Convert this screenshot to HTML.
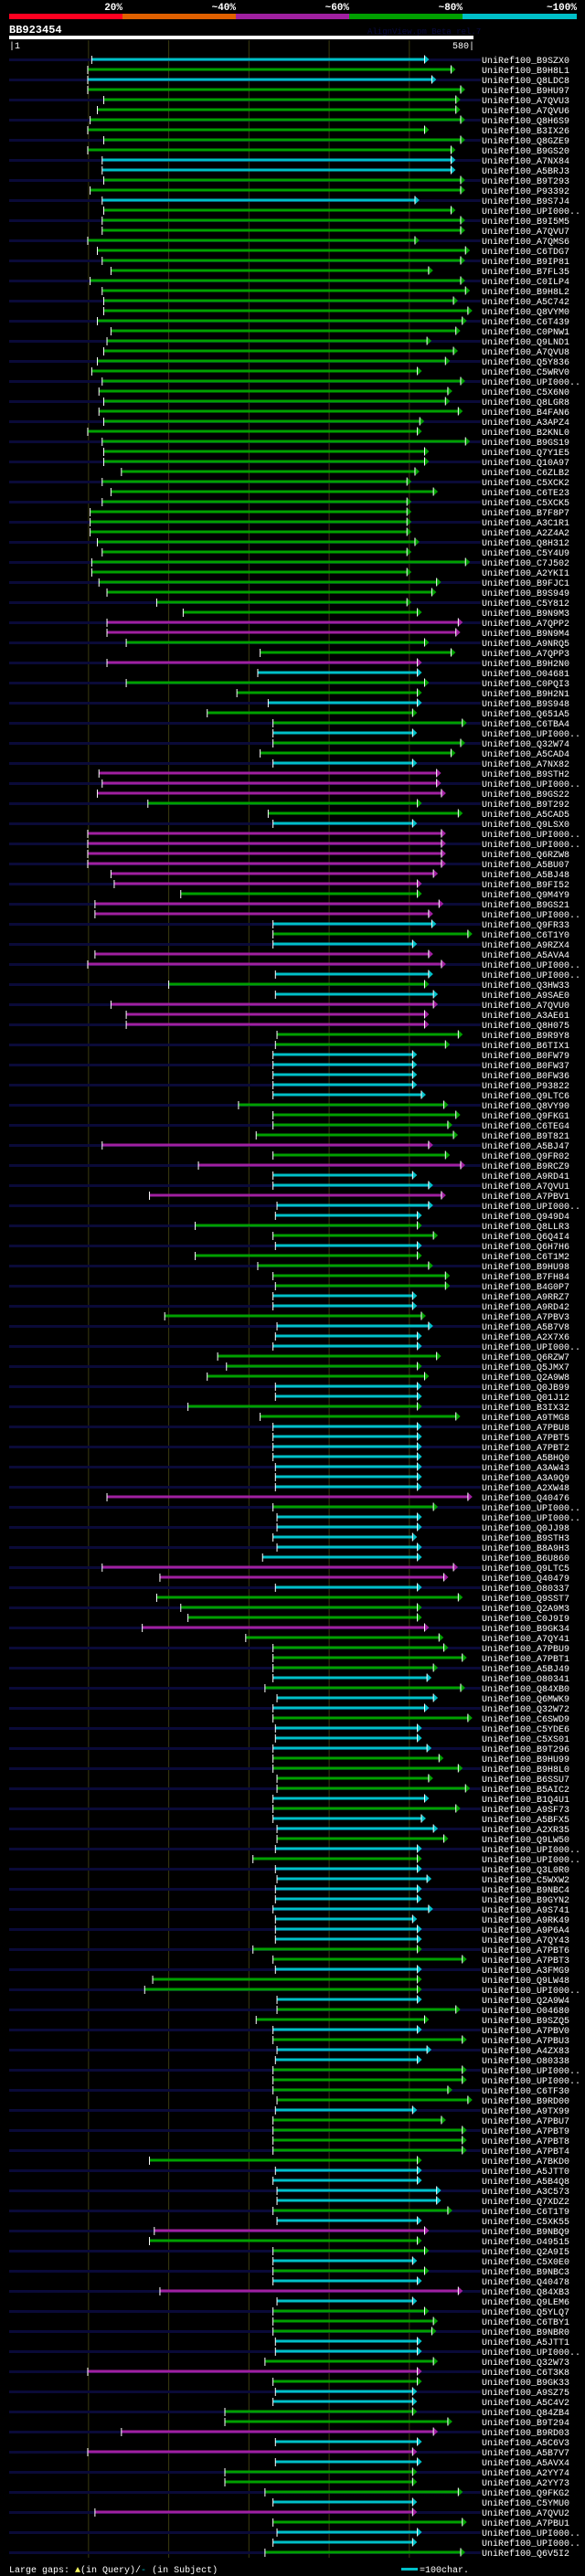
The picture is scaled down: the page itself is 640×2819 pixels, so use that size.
<!DOCTYPE html>
<html><head><meta charset="utf-8">
<style>
html,body{margin:0;padding:0;background:#000;}
svg{display:block;}
text{font-family:"Liberation Mono","DejaVu Sans Mono",monospace;}
</style></head>
<body>
<svg id="chart" width="640" height="2819" viewBox="0 0 640 2819" xmlns="http://www.w3.org/2000/svg">
  <rect x="0" y="0" width="640" height="2819" fill="#000"/>
  <g>
    <rect x="10" y="15" width="124" height="6" fill="#ff0020"/>
    <rect x="134" y="15" width="124" height="6" fill="#e06000"/>
    <rect x="258" y="15" width="124" height="6" fill="#a020a0"/>
    <rect x="382" y="15" width="124" height="6" fill="#00a000"/>
    <rect x="506" y="15" width="125" height="6" fill="#00c0c8"/>
    <g font-size="11" font-weight="bold" fill="#fff" text-anchor="end">
      <text x="134" y="11">20%</text>
      <text x="258" y="11">~40%</text>
      <text x="382" y="11">~60%</text>
      <text x="506" y="11">~80%</text>
      <text x="631" y="11">~100%</text>
    </g>
  </g>
  <text x="10" y="36" font-size="12" font-weight="bold" fill="#fff">BB923454</text>
  <text x="402" y="37" font-size="9" fill="#0a0a40">AlignView.pm Beta rel.7</text>
  <rect x="10" y="39" width="508" height="4" fill="#fff"/>
  <text x="10" y="53" font-size="10" fill="#fff">|1</text>
  <text x="519" y="53" font-size="10" fill="#fff" text-anchor="end">580|</text>
  <g id="grid"></g>
  <g id="rows"></g>
  <g>
    <text x="10" y="2815" font-size="10" fill="#fff">Large gaps: <tspan fill="#ffff60">▲</tspan>(in Query)/<tspan fill="#00c0c8">-</tspan> (in Subject)</text>
    <rect x="439" y="2810" width="18" height="3" fill="#00c0c8"/>
    <text x="459" y="2815" font-size="10" fill="#fff">=100char.</text>
  </g>
</svg>
<script>
const ids = ("B9SZX0 B9H8L1 Q8LDC8 B9HU97 A7QVU3 A7QVU6 Q8H6S9 B3IX26 Q8GZE9 B9GS20 A7NX84 A5BRJ3 B9T293 P93392 B9S7J4 UPI000.. B9I5M5 A7QVU7 A7QMS6 C6TDG7 B9IP81 B7FL35 C0ILP4 B9H8L2 A5C742 Q8VYM0 C6T439 " +
"C0PNW1 Q9LND1 A7QVU8 Q5Y836 C5WRV0 UPI000.. C5X6N0 Q8LGR8 B4FAN6 A3APZ4 B2KNL0 B9GS19 Q7Y1E5 Q10A97 C6ZLB2 C5XCK2 C6TE23 C5XCK5 B7F8P7 A3C1R1 A2Z4A2 Q8H312 C5Y4U9 C7J502 A2YKI1 B9FJC1 B9S949 " +
"C5Y812 B9N9M3 A7QPP2 B9N9M4 A9NRQ5 A7QPP3 B9H2N0 O04681 C0PQI3 B9H2N1 B9S948 Q651A5 C6TBA4 UPI000.. Q32W74 A5CAD4 A7NX82 B9STH2 UPI000.. B9GS22 B9T292 A5CAD5 Q9LSX0 UPI000.. UPI000.. Q6RZW8 A5BU07 " +
"A5BJ48 B9FI52 Q9M4Y9 B9GS21 UPI000.. Q9FR33 C6T1Y0 A9RZX4 A5AVA4 UPI000.. UPI000.. Q3HW33 A9SAE0 A7QVU0 A3AE61 Q8H075 B9R9Y8 B6TIX1 B0FW79 B0FW37 B0FW36 P93822 Q9LTC6 Q8VY90 Q9FKG1 C6TEG4 B9T821 " +
"A5BJ47 Q9FR02 B9RCZ9 A9RD41 A7QVU1 A7PBV1 UPI000.. Q949D4 Q8LLR3 Q6Q4I4 Q6H7H6 C6T1M2 B9HU98 B7FH84 B4G0P7 A9RRZ7 A9RD42 A7PBV3 A5B7V8 A2X7X6 UPI000.. Q6RZW7 Q5JMX7 Q2A9W8 Q0JB99 Q01J12 B3IX32 " +
"A9TMG8 A7PBU8 A7PBT5 A7PBT2 A5BHQ0 A3AW43 A3A9Q9 A2XW48 Q40476 UPI000.. UPI000.. Q0JJ98 B9STH3 B8A9H3 B6U860 Q9LTC5 Q40479 O80337 Q9SST7 Q2A9M3 C0J9I9 B9GK34 A7QY41 A7PBU9 A7PBT1 A5BJ49 O80341 " +
"Q84XB0 Q6MWK9 Q32W72 C6SWD9 C5YDE6 C5XS01 B9T296 B9HU99 B9H8L0 B6SSU7 B5AIC2 B1Q4U1 A9SF73 A5BFX5 A2XR35 Q9LW50 UPI000.. UPI000.. Q3L0R0 C5WXW2 B9NBC4 B9GYN2 A9S741 A9RK49 A9P6A4 A7QY43 A7PBT6 " +
"A7PBT3 A3FMG9 Q9LW48 UPI000.. Q2A9W4 O04680 B9SZQ5 A7PBV0 A7PBU3 A4ZX83 O80338 UPI000.. UPI000.. C6TF30 B9RD00 A9TX99 A7PBU7 A7PBT9 A7PBT8 A7PBT4 A7BKD0 A5JTT0 A5B4Q8 A3C573 Q7XDZ2 C6T1T9 C5XK55 " +
"B9NBQ9 O49515 Q2A9I5 C5X0E0 B9NBC3 Q40478 Q84XB3 Q9LEM6 Q5YLQ7 C6TBY1 B9NBR0 A5JTT1 UPI000.. Q32W73 C6T3K8 B9GK33 A9SZ75 A5C4V2 Q84ZB4 B9T294 B9RD03 A5C6V3 A5B7V7 A5AVX4 A2YY74 A2YY73 Q9FKG2 C5YMU0 " +
"A7QVU2 A7PBU1 UPI000.. UPI000.. Q6V5I2").split(" ");

const starts = [104,99,99,99,119,111,102,99,119,99,117,117,119,102,117,119,117,117,99,111,117,128,102,117,119,119,111,
128,123,119,111,104,117,113,119,113,119,99,117,119,119,141,117,128,117,102,102,102,111,117,104,104,113,123,
185,218,123,123,147,314,123,311,147,285,324,248,330,330,330,314,330,113,117,111,174,324,330,99,99,99,99,
128,132,215,108,108,330,330,330,108,99,333,200,333,128,147,147,335,333,330,330,330,330,330,287,330,330,309,
117,330,237,330,330,176,335,333,233,330,333,233,311,330,333,330,330,195,335,333,330,261,272,248,333,333,224,
314,330,330,330,330,333,333,333,123,330,335,335,330,335,317,117,189,333,185,215,224,167,296,330,330,330,330,
320,335,330,330,333,333,330,330,330,335,335,330,330,330,335,335,333,305,333,335,333,333,330,333,333,333,305,
330,333,180,170,335,335,309,330,330,335,333,330,330,330,335,333,330,330,330,330,176,333,330,335,335,330,335,
182,176,330,330,330,330,189,335,330,330,330,333,333,320,99,330,333,330,270,270,141,333,99,333,270,270,320,330,
108,330,335,330,320];

const ends = [519,552,528,564,558,558,564,519,564,552,552,552,564,564,507,552,564,564,507,570,564,524,564,570,555,573,566,
558,522,555,545,510,564,548,545,561,513,510,570,519,519,507,497,530,497,497,497,497,507,497,570,497,534,528,
497,510,561,558,519,552,510,510,519,510,510,504,566,504,564,552,504,534,534,540,510,561,504,540,540,540,540,
530,510,510,537,524,528,573,504,524,540,524,519,530,530,519,519,561,545,504,504,504,504,515,543,558,548,555,
524,545,564,504,524,540,524,510,510,530,510,510,524,545,545,504,504,515,524,510,510,534,510,519,510,510,510,
558,510,510,510,510,510,510,510,573,530,510,510,504,510,510,555,543,510,561,510,510,519,537,543,566,530,522,
564,530,519,573,510,510,522,537,561,524,570,519,558,515,530,543,510,510,510,522,510,510,524,504,510,510,510,
566,510,510,510,510,558,519,510,566,522,510,566,566,548,573,504,540,566,566,566,510,510,510,534,534,548,510,
519,510,519,504,519,510,561,504,519,530,528,510,510,530,510,510,504,504,504,548,530,510,504,510,504,504,561,504,
504,566,510,504,564];

const identityBlocks = [
"cgcgggggggccggcgggggggggggg",
"ggggggggggggggggggggggggggg",
"ggmmggmcggcggcggcmmmggcmmmm",
"mmgmmcgcmmcgcmmmggcccccgggg",
"mgmccmccggcggggccgcccgggccg",
"gcccccccmgcccccmmcgggmggggc",
"gccgcccggggcgccgcgccccccccg",
"gcggcggcgccggggcgggggccccgc",
"mggcgcmcgggccgmgccggmcmcgggc",
"mgccg"];
const identityClass = identityBlocks.join("").split("");

const palette = {c:"#00c0c8", g:"#00a000", m:"#a020a0"};
const queryLen = 580, x0 = 10, x1 = 518;
const gridTicks = [100,200,300,400,500];

function xScale(pos){ return x0 + (pos-1)*(x1-x0)/(queryLen-1); }
function yScale(i){ return 65 + i*11; }

const NS = "http://www.w3.org/2000/svg";
function mk(tag, attrs, parent){
  const el = document.createElementNS(NS, tag);
  for (const k in attrs) el.setAttribute(k, attrs[k]);
  parent.appendChild(el);
  return el;
}

const grid = document.getElementById("grid");
const rows = document.getElementById("rows");
const lastY = yScale(ids.length-1) + 6;

for (let i=0;i<ids.length;i++){
  if (i%2===0){
    const s = mk("rect",{x:10,y:yScale(i)-1,width:516,height:3,fill:"#0a0a38"},rows);
    
    
  }
}
for (const t of gridTicks){
  const gx = xScale(t);
  const l = mk("line",{x1:gx,x2:gx,y1:44,y2:lastY,stroke:"#3a3a10","stroke-width":1},grid);
  
  
}

const n = Math.min(ids.length, starts.length, ends.length);
for (let i=0;i<n;i++){
  const y = yScale(i);
  const col = palette[identityClass[i]] || "#00a000";
  const xs = xScale(starts[i]), xe = xScale(ends[i]);
  const g = mk("g",{},rows);
  
  
  const bar = mk("rect",{x:xs,y:y-1.5,width:Math.max(0,xe-xs),height:3,fill:col},g);
  
  
  const tick = mk("rect",{x:xs-0.5,y:y-4,width:1,height:9,fill:"#fff"},g);
  
  
  const tri = mk("polygon",{points:`${xe},${y-4.5} ${xe+5},${y} ${xe},${y+4.5}`,fill:col},g);
  
  
  const edge = mk("rect",{x:xe-0.5,y:y-4.5,width:1,height:9,fill:"#fff"},g);
  
  
  const lab = mk("text",{x:527,y:y+4,"font-size":10,fill:"#fff"},g);
  lab.textContent = "UniRef100_" + ids[i];
  
  
}
</script>
</body></html>
